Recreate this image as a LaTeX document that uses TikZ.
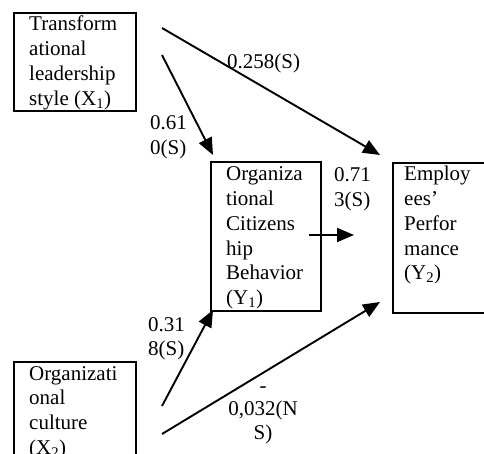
\documentclass[tikz,border=0pt]{standalone}
\usepackage{fontspec}
\setmainfont{Liberation Serif}
\usetikzlibrary{arrows.meta}
\begin{document}
\begin{tikzpicture}[x=1pt,y=-1pt,
  box/.style={draw, line width=2pt, inner sep=0pt, anchor=north west},
  txt/.style={inner sep=0pt, anchor=base west, font=\fontsize{21}{24.7}\selectfont},
  ctxt/.style={inner sep=0pt, anchor=base, font=\fontsize{21}{23.5}\selectfont},
  conn/.style={line width=1.9pt, -{Triangle[length=17pt,width=14pt]}}]
\useasboundingbox (0,0) rectangle (484,454);
\clip (0,0) rectangle (484,454);
% boxes
\node[box, minimum width=122pt, minimum height=98pt] (bx1) at (13,12) {};
\node[box, minimum width=110pt, minimum height=149pt] (by1) at (210,161) {};
\node[box, minimum width=110pt, minimum height=150pt] (by2) at (392,162) {};
\node[box, minimum width=122pt, minimum height=120pt] (bx2) at (13,361) {};
% box texts
\node[txt] (tx1) at (29,31) {\begin{tabular}[t]{@{}l@{}}Transform\\ational\\leadership\\style (X\textsubscript{1})\end{tabular}};
\node[txt] (ty1) at (226,181) {\begin{tabular}[t]{@{}l@{}}Organiza\\tional\\Citizens\\hip\\Behavior\\(Y\textsubscript{1})\end{tabular}};
\node[txt] (ty2) at (404,181) {\begin{tabular}[t]{@{}l@{}}Employ\\ees’\\Perfor\\mance\\(Y\textsubscript{2})\end{tabular}};
\node[txt] (tx2) at (29,380) {\begin{tabular}[t]{@{}l@{}}Organizati\\onal\\culture\\(X\textsubscript{2})\end{tabular}};
% connector ends
\coordinate (s1) at (162,55);  \coordinate (e1) at (213,155);
\coordinate (s2) at (162,28);  \coordinate (e2) at (380,155);
\coordinate (s3) at (309,235); \coordinate (e3) at (354,235);
\coordinate (s4) at (162,406); \coordinate (e4) at (213,310);
\coordinate (s5) at (162,434); \coordinate (e5) at (380,302);
\draw[conn] (s1) -- (e1);
\draw[conn] (s2) -- (e2);
\draw[conn] (s3) -- (e3);
\draw[conn] (s4) -- (e4);
\draw[conn] (s5) -- (e5);
% labels
\node[txt] (l1) at (150,130) {\begin{tabular}[t]{@{}l@{}}0.61\\0(S)\end{tabular}};
\node[txt] (l2) at (227,69) {0.258(S)};
\node[txt] (l3) at (334,182) {\begin{tabular}[t]{@{}l@{}}0.71\\3(S)\end{tabular}};
\node[txt] (l4) at (148,331) {\begin{tabular}[t]{@{}l@{}}0.31\\8(S)\end{tabular}};
\node[ctxt] (l5) at (263,392) {\begin{tabular}[t]{@{}c@{}}-\\0,032(N\\S)\end{tabular}};
\end{tikzpicture}
\end{document}
